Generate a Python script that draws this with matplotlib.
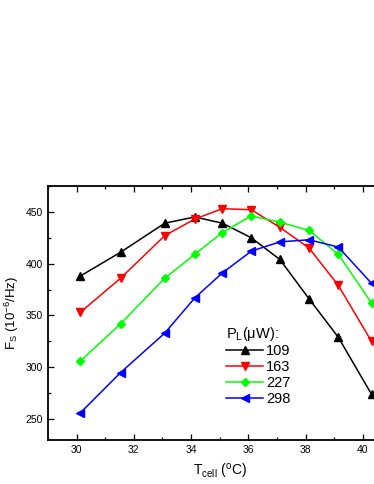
import matplotlib
matplotlib.use("Agg")
import matplotlib.pyplot as plt
from matplotlib.ticker import MultipleLocator

plt.rcParams['font.family'] = ['Liberation Sans', 'DejaVu Sans']

T = [30.13, 31.54, 33.08, 34.13, 35.09, 36.1, 37.1, 38.12, 39.14, 40.3]
F_109 = [388, 411, 439, 445, 439, 425, 404, 366, 329, 274]
F_163 = [353, 386, 427, 443, 453, 452, 435, 415, 379, 325]
F_227 = [306, 342, 386, 409, 430, 446, 440, 432, 409, 362]
F_298 = [256, 295, 333, 367, 391, 412, 421, 423, 416, 381]
labels = ['109', '163', '227', '298']

fig = plt.figure(figsize=(3.74, 4.84), dpi=100)
ax = fig.add_axes([0.128, 0.091, 0.919, 0.525])

styles = [('black', '^'), ('red', 'v'), ('#00ff00', 'D'), ('blue', '<')]
for ys, lab, (c, m) in zip([F_109, F_163, F_227, F_298], labels, styles):
    ax.plot(T, ys, color=c, marker=m, markersize=5.5 if m != 'D' else 4.5, lw=1.1, label=lab)

ax.set_xlim(29.0, 41.0)
ax.set_ylim(230, 475)
ax.xaxis.set_major_locator(MultipleLocator(2))
ax.xaxis.set_minor_locator(MultipleLocator(1))
ax.yaxis.set_major_locator(MultipleLocator(50))
ax.yaxis.set_minor_locator(MultipleLocator(25))
ax.tick_params(which='both', direction='in', top=True, right=True, labelsize=7.5)
ax.tick_params(which='major', length=4, width=0.9)
ax.tick_params(which='minor', length=2.5, width=0.9)
for s in ax.spines.values():
    s.set_linewidth(1.3)

ax.set_xlabel(r'T$_{\mathregular{cell}}$ ($^{\mathregular{o}}$C)', fontsize=10, labelpad=5)
ax.set_ylabel(r'F$_{\mathregular{S}}$ (10$^{\mathregular{-6}}$/Hz)', fontsize=9.5, labelpad=3)

leg = ax.legend(title=r'P$_{\mathregular{L}}$($\mathregular{\mu}$W):', loc='lower left',
                bbox_to_anchor=(0.49, 0.095), frameon=False, fontsize=10.5,
                title_fontsize=10.5, handlelength=2.5, handletextpad=0.2,
                labelspacing=0.12, borderpad=0.2)
leg._legend_box.align = 'left'

fig.savefig('out.png', dpi=100)
